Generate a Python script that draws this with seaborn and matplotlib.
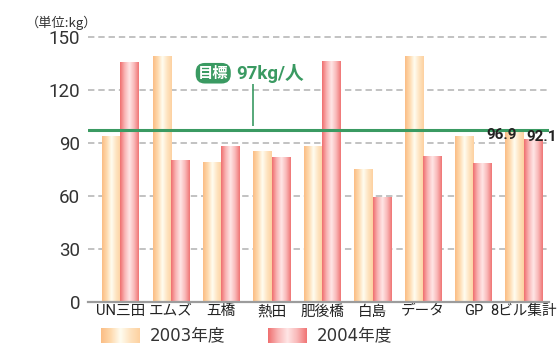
import numpy as np
import pandas as pd
import matplotlib
matplotlib.use("Agg")
import matplotlib.pyplot as plt
import seaborn as sns
from matplotlib.colors import LinearSegmentedColormap

# Waste per person (kg) by building, two fiscal years
sites = ["UN三田", "エムズ", "五橋", "熱田", "肥後橋", "白島", "データ", "GP", "8ビル集計"]
fy2003 = [93.4, 139.0, 79.1, 85.3, 88.1, 75.1, 139.0, 93.4, 96.9]
fy2004 = [135.3, 80.2, 88.1, 81.5, 136.2, 58.9, 82.5, 78.5, 92.1]
years = ["2003年度", "2004年度"]
target = 97
yticks = [0, 30, 60, 90, 120, 150]

df = pd.DataFrame({
    "site": sites * 2,
    "year": [years[0]] * len(sites) + [years[1]] * len(sites),
    "kg": fy2003 + fy2004,
})

green = "#3a9a62"
grad_stops = {
    years[0]: ["#fbbd84", "#fed9ad", "#fffdf1", "#fee3c0", "#fdd1a0"],
    years[1]: ["#ef6e6e", "#f9b5b5", "#ffe6e6", "#f9b8b8", "#f07474"],
}


def gradient(stops, n=256):
    cmap = LinearSegmentedColormap.from_list("bar", stops)
    return cmap(np.linspace(0, 1, n))[None, :, :]


sns.set_theme(style="white")
plt.rcParams["font.family"] = ["Roboto", "Noto Sans CJK JP", "DejaVu Sans"]
plt.rcParams["lines.scale_dashes"] = False

fig = plt.figure(figsize=(5.57, 3.45), dpi=100)
ax = fig.add_axes([0.1575, 0.1255, 0.8281, 0.7785])

width = 0.73
sns.barplot(data=df, x="site", y="kg", hue="year", order=sites, hue_order=years,
            width=width, gap=0, legend=False, ax=ax, zorder=2)

# replace flat fills with a horizontal gradient per bar
for cont, yr in zip(ax.containers, years):
    img = gradient(grad_stops[yr])
    for bar in cont:
        x, w, h = bar.get_x(), bar.get_width(), bar.get_height()
        ax.imshow(img, extent=[x, x + w, 0, h], aspect="auto",
                  interpolation="bilinear", zorder=2)
        bar.set_visible(False)

ax.set_xlim(-0.65, 8.5)
ax.set_ylim(0, 152)
ax.set_yticks(yticks)
ax.set_xlabel("")
ax.set_ylabel("")

ax.yaxis.grid(True, linestyle=(0, (4.6, 2.8)), color="#bdbdbd", lw=1.3)
ax.xaxis.grid(False)
ax.set_axisbelow(True)
for side in ["top", "right", "left"]:
    ax.spines[side].set_visible(False)
ax.spines["bottom"].set_color("#9c9c9c")
ax.spines["bottom"].set_linewidth(1.6)
ax.spines["bottom"].set_zorder(4)

ax.tick_params(axis="y", length=0, pad=5.5, labelsize=13.5, labelcolor="#333333")
ax.tick_params(axis="x", length=0, pad=2, labelsize=10.5, labelcolor="#222222")

# target line and its label
ax.axhline(target, color=green, lw=2.2, zorder=3)
ax.vlines(2.62, target + 2.2, 123.2, color=green, lw=1.2, zorder=3)
ax.text(1.84, 129.3, "目標", color="white", fontsize=11, fontweight="bold",
        family=["Noto Sans CJK JP"], ha="center", va="center", zorder=5,
        bbox=dict(boxstyle="round,pad=0.15,rounding_size=0.6", fc=green, ec="none"))
ax.text(2.29, 129.3, "97kg/人", color=green, fontsize=13.5, fontweight="bold",
        family=["Roboto", "Noto Sans CJK JP"], ha="left", va="center", zorder=5)

# value labels for the combined building total
half = width / 4
last = len(sites) - 1
ax.text(last - half - 0.25, fy2003[-1] - 2.6, f"{fy2003[-1]:.1f}", fontsize=11,
        fontweight="bold", color="#222222", ha="center", va="center", zorder=6, clip_on=False)
ax.text(last + half + 0.17, fy2004[-1] + 1.3, f"{fy2004[-1]:.1f}", fontsize=11,
        fontweight="bold", color="#222222", ha="center", va="center", zorder=6, clip_on=False)

# unit label
fig.text(0.046, 0.934, "（単位:kg）", fontsize=9.5, color="#333333",
         family=["Noto Sans CJK JP", "DejaVu Sans"], ha="left", va="center")

# legend with gradient swatches
legend_pos = [(0.181, 0.269), (0.481, 0.569)]
for yr, (px, tx) in zip(years, legend_pos):
    lax = fig.add_axes([px, 0.006, 0.070, 0.0435])
    lax.imshow(gradient(grad_stops[yr]), aspect="auto", interpolation="bilinear")
    lax.axis("off")
    fig.text(tx, 0.028, yr, fontsize=12, color="#333333",
             family=["DejaVu Sans", "Noto Sans CJK JP"], ha="left", va="center")

fig.savefig("out.png", dpi=100)
